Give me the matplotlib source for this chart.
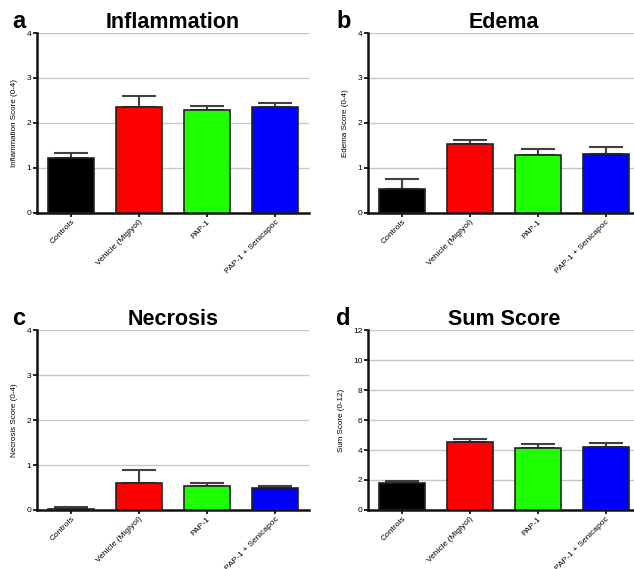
import matplotlib
matplotlib.use("Agg")
import matplotlib.pyplot as plt
import numpy as np

plt.rcParams['font.family'] = ['Liberation Sans', 'DejaVu Sans']

groups = ['Controls', 'Vehicle (Miglyol)', 'PAP-1', 'PAP-1 + Senicapoc']
colors = ['#000000', '#ff0000', '#1eff00', '#0000ff']

inflammation = [1.22, 2.35, 2.29, 2.35]
inflammation_sem = [0.11, 0.24, 0.09, 0.09]
edema = [0.54, 1.53, 1.29, 1.32]
edema_sem = [0.22, 0.10, 0.13, 0.15]
necrosis = [0.02, 0.59, 0.53, 0.48]
necrosis_sem = [0.05, 0.30, 0.08, 0.06]
sum_score = [1.83, 4.51, 4.13, 4.18]
sum_sem = [0.10, 0.22, 0.27, 0.27]

panels = [
    ('a', 'Inflammation', 'Inflammation Score (0-4)', inflammation, inflammation_sem, 4, 1),
    ('b', 'Edema', 'Edema Score (0-4)', edema, edema_sem, 4, 1),
    ('c', 'Necrosis', 'Necrosis Score (0-4)', necrosis, necrosis_sem, 4, 1),
    ('d', 'Sum Score', 'Sum Score (0-12)', sum_score, sum_sem, 12, 2),
]

# axes rectangles in figure fractions
rects = [
    [0.0584, 0.6257, 0.429, 0.3163],
    [0.5804, 0.6257, 0.429, 0.3163],
    [0.0584, 0.1037, 0.429, 0.3163],
    [0.5804, 0.1037, 0.429, 0.3163],
]
letter_x = [12 / 634, 336 / 634, 12 / 634, 336 / 634]

fig = plt.figure(figsize=(6.34, 5.69), dpi=100)

for rect, lx, (letter, title, ylabel, vals, sem, ymax, step) in zip(rects, letter_x, panels):
    ax = fig.add_axes(rect)
    x = np.arange(len(groups))
    ax.bar(x, vals, width=0.68, color=colors, edgecolor='#222222', linewidth=1.2, zorder=3)
    ax.errorbar(x, vals, yerr=[np.zeros(len(vals)), sem], fmt='none',
                ecolor='#404040', elinewidth=1.5, capsize=12, capthick=1.5, zorder=2)
    ax.set_xlim(-0.5, 3.5)
    ax.set_ylim(0, ymax)
    ax.set_yticks(np.arange(0, ymax + step, step))
    ax.yaxis.grid(True, color='#c8c8c8', linewidth=1.0, zorder=0)
    ax.set_axisbelow(True)
    for s in ['top', 'right']:
        ax.spines[s].set_visible(False)
    for s in ['left', 'bottom']:
        ax.spines[s].set_linewidth(1.8)
        ax.spines[s].set_color('#111111')
    ax.tick_params(axis='both', length=3, width=1.2, labelsize=6, pad=1)
    ax.set_xticks(x)
    ax.set_xticklabels(groups, rotation=45, ha='right', rotation_mode='anchor')
    ax.set_ylabel(ylabel, fontsize=5.8, labelpad=6)
    ax.text(0.5, 1.028, title, transform=ax.transAxes, fontsize=15.5,
            fontweight='bold', ha='center', va='baseline')
    top = rect[1] + rect[3]
    fig.text(lx, top + 5 / 569, letter, fontsize=17,
             fontweight='bold', ha='left', va='baseline')

fig.savefig('out.png', dpi=100)
